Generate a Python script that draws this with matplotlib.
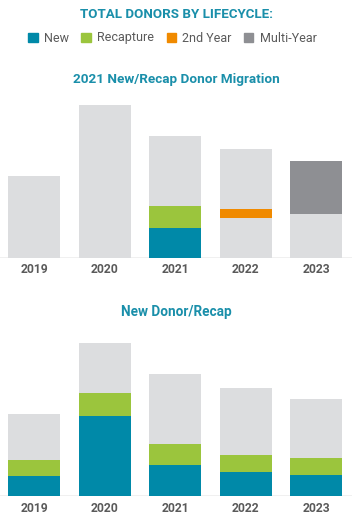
import matplotlib
matplotlib.use("Agg")
import matplotlib.pyplot as plt
from matplotlib.patches import Patch
import numpy as np

years = ['2019', '2020', '2021', '2022', '2023']
totals = [82, 153, 122, 108.5, 97]

# 2021 New/Recap Donor Migration
mig_new = [0, 0, 30, 0, 0]
mig_recap = [0, 0, 22, 0, 0]
mig_other_below = [0, 0, 0, 39.5, 43.5]
mig_second_year = [0, 0, 0, 9, 0]
mig_multi_year = [0, 0, 0, 0, 53.5]

# New Donor/Recap
nd_new = [20, 80, 30.7, 24, 21]
nd_recap = [16, 23, 21.3, 16.7, 17]

legend_labels = ['New', 'Recapture', '2nd Year', 'Multi-Year']

C_NEW = '#0089A8'
C_RECAP = '#9BC53D'
C_2ND = '#F08A00'
C_MULTI = '#8E8F93'
C_LIGHT = '#DCDDDF'
C_TITLE = '#1A8FAA'
C_TICK = '#5A5A5A'

FONT = ['Roboto', 'DejaVu Sans']
plt.rcParams['font.family'] = FONT

W, H = 352, 525
fig = plt.figure(figsize=(W / 100, H / 100), dpi=100)

spacing = 70.6
c0 = 34
xl = (0 - c0) / spacing
xr = (W - c0) / spacing
bw = 52 / spacing
x = np.arange(len(years))


def make_ax(base_px):
    ax = fig.add_axes([0, (H - base_px) / H, 1, 160 / H])
    ax.set_xlim(xl, xr)
    ax.set_ylim(0, 160)
    for s in ax.spines.values():
        s.set_visible(False)
    ax.set_yticks([])
    ax.set_xticks(x)
    ax.set_xticklabels(years, fontsize=8.7, fontweight='bold', color=C_TICK)
    ax.tick_params(axis='x', length=0, pad=4)
    ax.axhline(0, color='#EEEEEE', lw=1.2, zorder=0)
    ax.patch.set_alpha(0)
    return ax


ax1 = make_ax(257.5)
ax1.bar(x, totals, bw, color=C_LIGHT, zorder=1)
b = np.zeros(5)
ax1.bar(x, mig_new, bw, bottom=b, color=C_NEW, zorder=2)
b += mig_new
ax1.bar(x, mig_recap, bw, bottom=b, color=C_RECAP, zorder=2)
b += mig_recap
b += mig_other_below
ax1.bar(x, mig_second_year, bw, bottom=b, color=C_2ND, zorder=2)
b += mig_second_year
ax1.bar(x, mig_multi_year, bw, bottom=b, color=C_MULTI, zorder=2)

ax2 = make_ax(496)
ax2.bar(x, totals, bw, color=C_LIGHT, zorder=1)
ax2.bar(x, nd_new, bw, color=C_NEW, zorder=2)
ax2.bar(x, nd_recap, bw, bottom=nd_new, color=C_RECAP, zorder=2)

fig.text(0.5, 1 - 15 / H, 'TOTAL DONORS BY LIFECYCLE:', ha='center', va='center',
         fontsize=9.6, fontweight='bold', color=C_TITLE)
fig.text(0.5, 1 - 80 / H, '2021 New/Recap Donor Migration', ha='center', va='center',
         fontsize=9.7, fontweight='bold', color=C_TITLE)
fig.text(0.5, 1 - 312 / H, 'New Donor/Recap', ha='center', va='center',
         fontsize=9.8, fontweight='bold', color=C_TITLE)

handles = [Patch(color=c) for c in [C_NEW, C_RECAP, C_2ND, C_MULTI]]
leg = fig.legend(handles, legend_labels, loc='center', bbox_to_anchor=(0.49, 1 - 38 / H),
                 ncol=4, frameon=False, fontsize=9, handlelength=0.75, handleheight=0.75,
                 handletextpad=0.5, columnspacing=1.0, borderpad=0)
for t in leg.get_texts():
    t.set_color(C_TICK)

fig.savefig('out.png', dpi=100)
